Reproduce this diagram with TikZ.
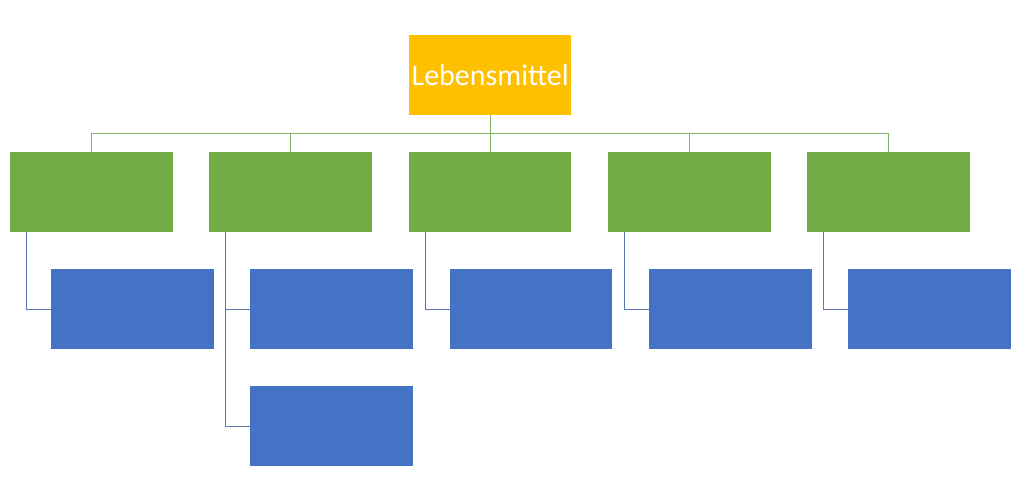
\documentclass[tikz,border=0pt]{standalone}
\usepackage{fontspec}
\setmainfont{Carlito}
\definecolor{gold}{HTML}{FFC000}
\definecolor{lgreen}{HTML}{70AD47}
\definecolor{lblue}{HTML}{4472C4}
\definecolor{gline}{HTML}{86B466}
\definecolor{bline}{HTML}{5A78B0}
\begin{document}
\begin{tikzpicture}[x=1pt,y=-1pt,
  box/.style={draw=none,minimum width=163pt,minimum height=80pt,inner sep=0pt,anchor=north west},
  topbox/.style={box,fill=gold,minimum width=162pt,text=white,font=\fontsize{30}{30}\selectfont},
  greenbox/.style={box,fill=lgreen},
  bluebox/.style={box,fill=lblue},
  gconn/.style={draw=gline,line width=1pt},
  bconn/.style={draw=bline,line width=1pt}]
\useasboundingbox (0,0) rectangle (1021,477);
\node[topbox] (top) at (409,35) {Lebensmittel};
\node[greenbox] (g1) at (10,152) {};
\node[greenbox] (g2) at (209,152) {};
\node[greenbox,minimum width=162pt] (g3) at (409,152) {};
\node[greenbox] (g4) at (608,152) {};
\node[greenbox] (g5) at (807,152) {};
\node[bluebox] (b1) at (51,269) {};
\node[bluebox] (b2) at (250,269) {};
\node[bluebox] (b2b) at (250,386) {};
\node[bluebox,minimum width=162pt] (b3) at (450,269) {};
\node[bluebox] (b4) at (649,269) {};
\node[bluebox] (b5) at (848,269) {};
\coordinate (hy) at (0,133);
\draw[gconn] (top.south) -- (top.south |- hy);
\draw[gconn] (g1.north) -- (g1.north |- hy) -- (g5.north |- hy) -- (g5.north);
\foreach \g in {g2,g3,g4} \draw[gconn] (\g.north) -- (\g.north |- hy);
\foreach \g/\b in {g1/b1,g2/b2,g3/b3,g4/b4,g5/b5}
  \draw[bconn] ([xshift=16pt]\g.south west) |- (\b.west);
\draw[bconn] ([xshift=16pt]g2.south west) |- (b2b.west);
\end{tikzpicture}
\end{document}
